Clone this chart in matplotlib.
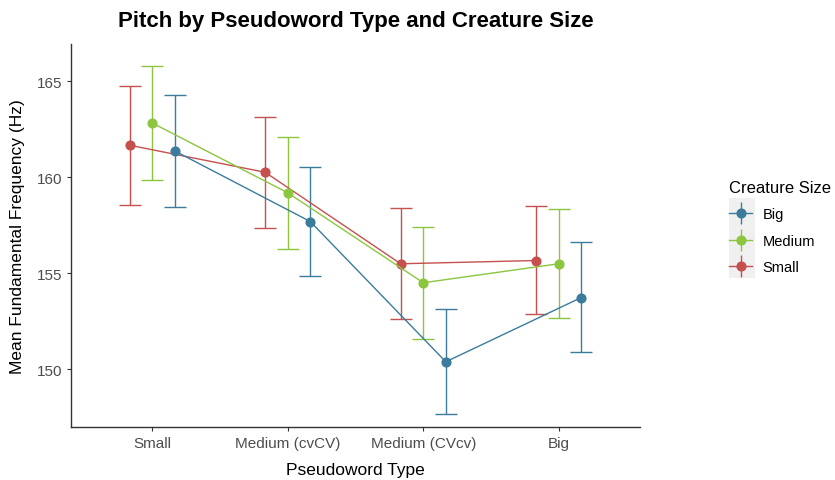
# Pitch by pseudoword type and creature size - dodged point/errorbar plot
import numpy as np
import matplotlib.pyplot as plt
from matplotlib.lines import Line2D
from matplotlib.patches import Rectangle
from matplotlib.legend_handler import HandlerTuple

plt.rcParams["font.family"] = ["Liberation Sans", "DejaVu Sans"]

# -----------------------------
# Data
# -----------------------------
pseudoword_types = ["Small", "Medium (cvCV)", "Medium (CVcv)", "Big"]
creature_sizes = ["Big", "Medium", "Small"]

big_mean = [161.37, 157.69, 150.38, 153.73]
big_upper = [164.27, 160.56, 153.13, 156.60]
big_lower = [158.46, 154.83, 147.64, 150.89]

medium_mean = [162.83, 159.19, 154.50, 155.49]
medium_upper = [165.82, 162.08, 157.43, 158.33]
medium_lower = [159.84, 156.27, 151.58, 152.64]

small_mean = [161.67, 160.26, 155.49, 155.66]
small_upper = [164.78, 163.13, 158.39, 158.49]
small_lower = [158.58, 157.38, 152.59, 152.85]

colors = {"Big": "#3B7C9C", "Medium": "#8CC63E", "Small": "#C5504D"}
dodge = {"Small": -1 / 6, "Medium": 0.0, "Big": 1 / 6}

series = {
    "Big": (big_mean, big_lower, big_upper),
    "Medium": (medium_mean, medium_lower, medium_upper),
    "Small": (small_mean, small_lower, small_upper),
}

# -----------------------------
# Plot
# -----------------------------
fig = plt.figure(figsize=(8.35, 4.81), dpi=100)
ax = fig.add_axes([0.085, 0.111, 0.6815, 0.7955])

x = np.arange(1, len(pseudoword_types) + 1)

for size in ["Small", "Medium", "Big"]:
    mean, lower, upper = (np.array(v) for v in series[size])
    xs = x + dodge[size]
    ax.errorbar(
        xs, mean,
        yerr=[mean - lower, upper - mean],
        color=colors[size], ecolor=colors[size], elinewidth=1.0,
        capsize=8.2, capthick=1.0, lw=1.0, marker="o", markersize=6.3,
    )

ax.set_xlim(0.4, 4.6)
ax.set_ylim(147.0, 166.95)
ax.set_xticks(x)
ax.set_xticklabels(pseudoword_types)
ax.set_yticks([150, 155, 160, 165])

for side in ["top", "right"]:
    ax.spines[side].set_visible(False)
for side in ["left", "bottom"]:
    ax.spines[side].set_color("#333333")
    ax.spines[side].set_linewidth(1.0)

ax.tick_params(axis="both", colors="#333333", labelcolor="#4D4D4D",
               labelsize=11, length=3, width=0.8)

ax.set_xlabel("Pseudoword Type", fontsize=12.5, labelpad=9)
ax.set_ylabel("Mean Fundamental Frequency (Hz)", fontsize=12.5, labelpad=8)
ax.set_title("Pitch by Pseudoword Type and Creature Size",
             fontsize=16, fontweight="bold", pad=13)

# -----------------------------
# Legend
# -----------------------------
handles = []
for size in creature_sizes:
    c = colors[size]
    handles.append((
        Line2D([], [], color=c, lw=1.0),
        Line2D([], [], color=c, marker="|", markersize=16, ls="", mew=1.0),
        Line2D([], [], color=c, marker="o", markersize=6.3, ls=""),
    ))

# grey key background, as in ggplot legends
fig.patches.append(Rectangle((729 / 835, 1 - 279 / 481), 26 / 835, 80 / 481,
                             transform=fig.transFigure, facecolor="#F0F0F0",
                             edgecolor="none", zorder=0))

leg = fig.legend(handles, creature_sizes, title="Creature Size",
                 handler_map={tuple: HandlerTuple(ndivide=1)},
                 loc="upper left", bbox_to_anchor=(729 / 835, 1 - 181 / 481),
                 frameon=False, fontsize=10.5, title_fontsize=12,
                 borderpad=0, borderaxespad=0,
                 handlelength=1.6, handletextpad=0.7, labelspacing=0.85,
                 alignment="left")

fig.savefig("out.png", dpi=100)
